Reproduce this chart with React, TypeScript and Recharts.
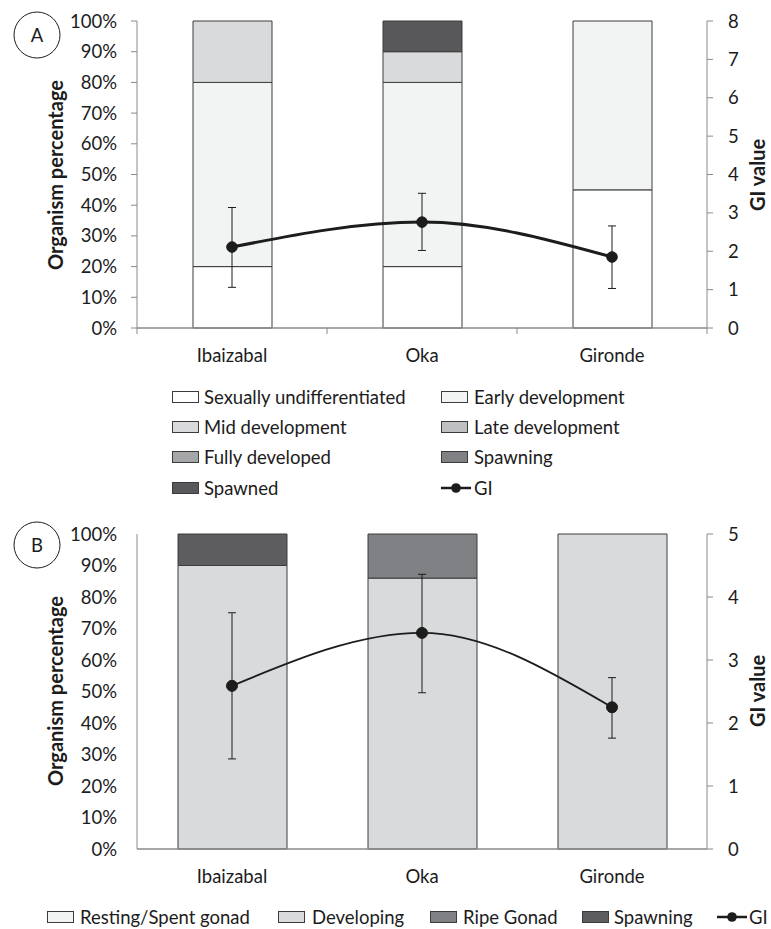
import React from "react";
import { ComposedChart, Bar, Line, XAxis, YAxis, ErrorBar } from "recharts";

const sites = ["Ibaizabal", "Oka", "Gironde"];

// Panel A: organism percentage per gonad stage
const sexUndiff = [20, 20, 45];
const earlyDev = [60, 60, 55];
const midDev = [20, 10, 0];
const lateDev = [0, 0, 0];
const fullyDev = [0, 0, 0];
const spawningA = [0, 0, 0];
const spawnedA = [0, 10, 0];
const giA = [2.11, 2.76, 1.85];
const giALow = [1.06, 2.02, 1.03];
const giAHigh = [3.14, 3.51, 2.66];

// Panel B
const restingB = [0, 0, 0];
const developingB = [90, 86, 100];
const ripeB = [0, 14, 0];
const spawningB = [10, 0, 0];
const giB = [2.59, 3.43, 2.25];
const giBLow = [1.43, 2.48, 1.76];
const giBHigh = [3.75, 4.36, 2.72];

const pctTicks = [0, 10, 20, 30, 40, 50, 60, 70, 80, 90, 100];
const giTicksA = [0, 1, 2, 3, 4, 5, 6, 7, 8];
const giTicksB = [0, 1, 2, 3, 4, 5];

const AXIS = "#8a8a8a";
const INK = "#1c1c1c";
const EDGE = "#3c3c3c";
const FS = 18.5;
const TITLE_FS = 20;

const seriesA = [
  { key: "su", name: "Sexually undifferentiated", color: "#ffffff", values: sexUndiff },
  { key: "early", name: "Early development", color: "#f2f3f3", values: earlyDev },
  { key: "mid", name: "Mid development", color: "#d9dadb", values: midDev },
  { key: "late", name: "Late development", color: "#bfc0c2", values: lateDev },
  { key: "fully", name: "Fully developed", color: "#a5a6a8", values: fullyDev },
  { key: "spawning", name: "Spawning", color: "#808184", values: spawningA },
  { key: "spawned", name: "Spawned", color: "#58585a", values: spawnedA },
];

const seriesB = [
  { key: "resting", name: "Resting/Spent gonad", color: "#f2f3f3", values: restingB },
  { key: "developing", name: "Developing", color: "#d9dadc", values: developingB },
  { key: "ripe", name: "Ripe Gonad", color: "#808184", values: ripeB },
  { key: "spawning", name: "Spawning", color: "#5d5d5f", values: spawningB },
];

function buildRows(series: typeof seriesA, gi: number[], lo: number[], hi: number[]) {
  return sites.map((site, i) => {
    const row: any = { site, gi: gi[i], err: [gi[i] - lo[i], hi[i] - gi[i]] };
    series.forEach((s) => (row[s.key] = s.values[i]));
    return row;
  });
}

const dataA = buildRows(seriesA, giA, giALow, giAHigh);
const dataB = buildRows(seriesB, giB, giBLow, giBHigh);

const SiteTick = (props: any) => {
  const { x, y, payload, marks, index, visibleTicksCount } = props;
  const half = payload && payload.offset ? payload.offset : 95;
  return (
    <g>
      <text x={x} y={y + 27} textAnchor="middle" dominantBaseline="central" fill={INK} fontSize={FS}>
        {payload.value}
      </text>
      {marks && <line x1={x - half} x2={x - half} y1={y} y2={y + 6} stroke={AXIS} />}
      {marks && index === visibleTicksCount - 1 && (
        <line x1={x + half} x2={x + half} y1={y} y2={y + 6} stroke={AXIS} />
      )}
    </g>
  );
};

const Swatch = ({ color }: { color: string }) => (
  <div style={{ width: 27, height: 12, background: color, border: `1px solid ${EDGE}`, boxSizing: "border-box" }} />
);

const GiSwatch = () => (
  <svg width={30} height={12} style={{ display: "block" }}>
    <line x1={0} x2={30} y1={6} y2={6} stroke={INK} strokeWidth={2.5} />
    <circle cx={15} cy={6} r={4.8} fill={INK} />
  </svg>
);

const LegendItem = ({ x, y, textX, label, icon }: any) => (
  <>
    <div style={{ position: "absolute", left: x, top: y - 6 }}>{icon}</div>
    <div
      style={{
        position: "absolute",
        left: textX,
        top: y - 12,
        height: 24,
        lineHeight: "24px",
        fontSize: FS,
        color: INK,
        whiteSpace: "nowrap",
      }}
    >
      {label}
    </div>
  </>
);

// legend slots: [iconX, textX, rowY]
const legendA = [
  [172, 204, 397],
  [441, 474, 397],
  [172, 204, 427],
  [441, 474, 427],
  [172, 204, 457],
  [441, 474, 457],
  [172, 204, 488],
];
const legendB = [
  [47, 80, 917],
  [278, 312, 917],
  [430, 463, 917],
  [582, 614, 917],
];

const AxisTitle = ({ x, y, text }: { x: number; y: number; text: string }) => (
  <text
    transform={`translate(${x},${y}) rotate(-90)`}
    textAnchor="middle"
    dominantBaseline="central"
    fontSize={TITLE_FS}
    fontWeight="bold"
    fill={INK}
  >
    {text}
  </text>
);

const App: React.FC = () => {
  return (
    <div
      style={{
        position: "absolute",
        left: 0,
        top: 0,
        width: 771,
        height: 929,
        background: "#fff",
        fontFamily: "Lato, 'Open Sans', sans-serif",
      }}
    >
      <div style={{ position: "absolute", left: 0, top: 0 }}>
        <ComposedChart width={771} height={370} data={dataA} margin={{ top: 21, right: 20, bottom: 0, left: 77 }}>
          <XAxis
            dataKey="site"
            height={42}
            interval={0}
            tickSize={0}
            tickMargin={0}
            tickLine={false}
            axisLine={{ stroke: AXIS, strokeWidth: 1.5 }}
            tick={<SiteTick marks />}
          />
          <YAxis
            yAxisId="pct"
            domain={[0, 100]}
            ticks={pctTicks}
            width={60}
            tickSize={6}
            tickMargin={14}
            tickFormatter={(v) => `${v}%`}
            tick={{ fill: INK, fontSize: FS }}
            axisLine={{ stroke: AXIS }}
            tickLine={{ stroke: AXIS }}
          />
          <YAxis
            yAxisId="gi"
            orientation="right"
            domain={[0, 8]}
            ticks={giTicksA}
            width={44}
            tickSize={6}
            tickMargin={15}
            tick={{ fill: INK, fontSize: FS }}
            axisLine={{ stroke: AXIS }}
            tickLine={{ stroke: AXIS }}
          />
          {seriesA.map((s) => (
            <Bar
              key={s.key}
              yAxisId="pct"
              dataKey={s.key}
              name={s.name}
              stackId="a"
              fill={s.color}
              stroke={EDGE}
              strokeWidth={1}
              barSize={79}
              isAnimationActive={false}
            />
          ))}
          <Line
            yAxisId="gi"
            type="monotone"
            dataKey="gi"
            name="GI"
            stroke={INK}
            strokeWidth={3}
            dot={{ r: 5.3, fill: INK, stroke: INK, strokeWidth: 1 }}
            isAnimationActive={false}
          >
            <ErrorBar dataKey="err" direction="y" width={4} stroke={INK} strokeWidth={1} />
          </Line>
        </ComposedChart>
      </div>

      <div style={{ position: "absolute", left: 0, top: 500 }}>
        <ComposedChart width={771} height={392} data={dataB} margin={{ top: 34, right: 20, bottom: 0, left: 77 }}>
          <XAxis
            dataKey="site"
            height={43}
            interval={0}
            tickSize={0}
            tickMargin={0}
            tickLine={false}
            axisLine={{ stroke: AXIS, strokeWidth: 1.5 }}
            tick={<SiteTick />}
          />
          <YAxis
            yAxisId="pct"
            domain={[0, 100]}
            ticks={pctTicks}
            width={60}
            tickSize={6}
            tickMargin={14}
            tickFormatter={(v) => `${v}%`}
            tick={{ fill: INK, fontSize: FS }}
            axisLine={{ stroke: AXIS }}
            tickLine={false}
          />
          <YAxis
            yAxisId="gi"
            orientation="right"
            domain={[0, 5]}
            ticks={giTicksB}
            width={44}
            tickSize={6}
            tickMargin={15}
            tick={{ fill: INK, fontSize: FS }}
            axisLine={{ stroke: AXIS }}
            tickLine={{ stroke: AXIS }}
          />
          {seriesB.map((s) => (
            <Bar
              key={s.key}
              yAxisId="pct"
              dataKey={s.key}
              name={s.name}
              stackId="b"
              fill={s.color}
              stroke={EDGE}
              strokeWidth={1}
              barSize={109}
              isAnimationActive={false}
            />
          ))}
          <Line
            yAxisId="gi"
            type="monotone"
            dataKey="gi"
            name="GI"
            stroke={INK}
            strokeWidth={1.8}
            dot={{ r: 5.5, fill: INK, stroke: INK, strokeWidth: 1 }}
            isAnimationActive={false}
          >
            <ErrorBar dataKey="err" direction="y" width={4} stroke={INK} strokeWidth={1} />
          </Line>
        </ComposedChart>
      </div>

      <svg width={771} height={929} style={{ position: "absolute", left: 0, top: 0, pointerEvents: "none" }}>
        <circle cx={37} cy={35} r={23} fill="none" stroke={INK} strokeWidth={1} />
        <text x={37} y={35} textAnchor="middle" dominantBaseline="central" fontSize={FS} fill={INK}>A</text>
        <circle cx={37} cy={545} r={23} fill="none" stroke={INK} strokeWidth={1} />
        <text x={37} y={545} textAnchor="middle" dominantBaseline="central" fontSize={FS} fill={INK}>B</text>
        <AxisTitle x={55} y={175} text="Organism percentage" />
        <AxisTitle x={757} y={175} text="GI value" />
        <AxisTitle x={55} y={691} text="Organism percentage" />
        <AxisTitle x={757} y={691} text="GI value" />
      </svg>

      {seriesA.map((s, i) => (
        <LegendItem key={s.key} x={legendA[i][0]} textX={legendA[i][1]} y={legendA[i][2]} label={s.name} icon={<Swatch color={s.color} />} />
      ))}
      <LegendItem x={441} textX={474} y={488} label="GI" icon={<GiSwatch />} />

      {seriesB.map((s, i) => (
        <LegendItem key={s.key} x={legendB[i][0]} textX={legendB[i][1]} y={legendB[i][2]} label={s.name} icon={<Swatch color={s.color} />} />
      ))}
      <LegendItem x={717} textX={749} y={917} label="GI" icon={<GiSwatch />} />
    </div>
  );
};

export default App;
